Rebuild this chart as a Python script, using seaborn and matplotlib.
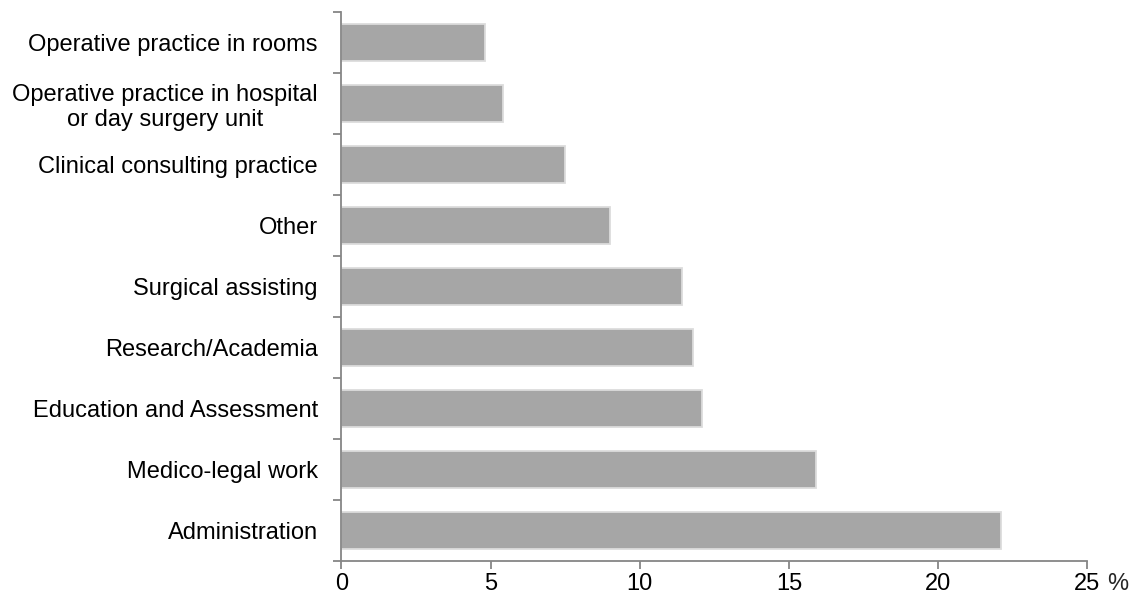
import matplotlib
matplotlib.use("Agg")
import matplotlib.pyplot as plt
import matplotlib.transforms as mtransforms
import numpy as np
import pandas as pd
import seaborn as sns

# Share of respondents by type of work (%)
activities = [
    "Operative practice in rooms",
    "Operative practice in hospital\nor day surgery unit",
    "Clinical consulting practice",
    "Other",
    "Surgical assisting",
    "Research/Academia",
    "Education and Assessment",
    "Medico-legal work",
    "Administration",
]
percent = [4.8, 5.4, 7.5, 9.0, 11.4, 11.8, 12.1, 15.9, 22.1]
x_ticks = [0, 5, 10, 15, 20, 25]
x_tick_labels = ["0", "5", "10", "15", "20", "25"]

sns.set_theme(style="white")
plt.rcParams["font.family"] = ["Liberation Sans", "DejaVu Sans"]

df = pd.DataFrame({"activity": activities, "percent": percent})

fig = plt.figure(figsize=(11.37, 6.04), dpi=100)
ax = fig.add_axes([0.3003, 0.0712, 0.9563 - 0.3003, 0.9806 - 0.0712])

sns.barplot(
    data=df, x="percent", y="activity", order=activities,
    color="#a6a6a6", saturation=1, width=0.61,
    edgecolor="#dcdcdc", linewidth=1.3, ax=ax,
)

axis_col = "#868686"
fs = 17
ax.set_xlim(0, 25)
ax.set_ylim(len(activities) - 0.5, -0.5)
ax.set_xlabel("")
ax.set_ylabel("")

for side in ("top", "right"):
    ax.spines[side].set_visible(False)
for side in ("left", "bottom"):
    ax.spines[side].set_color(axis_col)
    ax.spines[side].set_linewidth(1.3)

ax.set_xticks(x_ticks)
ax.set_xticklabels(x_tick_labels)
ax.tick_params(axis="x", which="major", direction="out", length=5.5, width=1.3,
               color=axis_col, labelsize=fs, labelcolor="black", pad=3, bottom=True)

# Category labels at bar centres, tick marks at the boundaries between bars
ax.set_yticks(np.arange(len(activities)))
ax.set_yticklabels(activities, multialignment="center")
ax.set_yticks(np.arange(len(activities) + 1) - 0.5, minor=True)
ax.tick_params(axis="y", which="major", length=0, labelsize=fs, labelcolor="black", pad=17)
ax.tick_params(axis="y", which="minor", direction="out", length=5.5, width=1.3,
               color=axis_col, left=True)
ax.grid(False)

# Unit sign to the right of the last tick label
trans = mtransforms.blended_transform_factory(ax.transData, ax.transAxes)
ax.annotate("%", xy=(25, 0), xycoords=trans, xytext=(14.5, -8.5),
            textcoords="offset points", ha="left", va="top", fontsize=fs)

fig.savefig("out.png", dpi=100)
